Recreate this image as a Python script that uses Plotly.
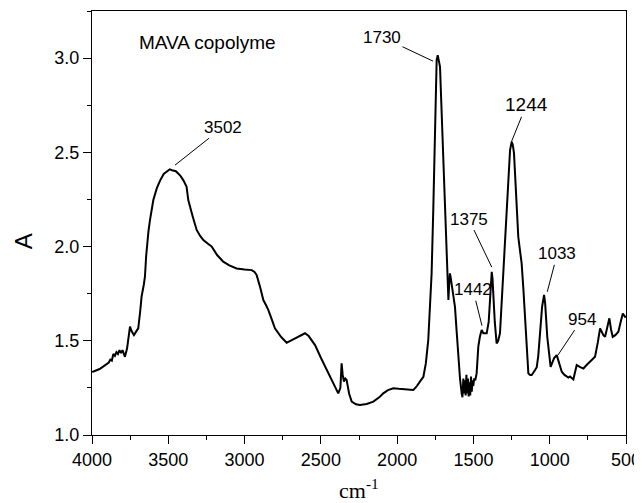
import plotly.graph_objects as go

# FTIR spectrum of MAVA copolymer
wavenumber = [
    4000, 3990, 3950, 3920, 3904, 3890, 3880, 3870, 3860, 3850, 3840, 3830, 3820, 3810, 3800,
    3790, 3784, 3770, 3760, 3751, 3740, 3725, 3710, 3697, 3685, 3675, 3660, 3653, 3645, 3641,
    3630, 3620, 3598, 3575, 3554, 3530, 3510, 3490, 3475, 3450, 3420, 3400, 3380, 3369, 3340,
    3314, 3290, 3270, 3240, 3216, 3180, 3140, 3100, 3052, 3000, 2953, 2935, 2921, 2900, 2877,
    2860, 2844, 2820, 2801, 2760, 2724, 2700, 2670, 2630, 2604, 2580, 2538, 2500, 2462, 2420,
    2386, 2372, 2364, 2357, 2349, 2340, 2331, 2315, 2298, 2270, 2244, 2200, 2156, 2113, 2091,
    2060, 2025, 1990, 1960, 1894, 1875, 1861, 1845, 1828, 1812, 1796, 1785, 1774, 1763, 1752,
    1741, 1734, 1726, 1719, 1710, 1701, 1690, 1680, 1664, 1659, 1654, 1648, 1643, 1632, 1621,
    1610, 1599, 1588, 1577, 1572, 1566, 1561, 1556, 1551, 1546, 1541, 1536, 1531, 1526, 1521,
    1516, 1511, 1506, 1501, 1495, 1488, 1479, 1468, 1458, 1446, 1435, 1424, 1413, 1400, 1391,
    1385, 1380, 1375, 1370, 1360, 1348, 1338, 1326, 1310, 1293, 1275, 1260, 1249, 1242, 1234,
    1220, 1206, 1195, 1184, 1173, 1162, 1150, 1140, 1129, 1118, 1096, 1085, 1075, 1064, 1050,
    1037, 1030, 1016, 1005, 994, 985, 970, 954, 940, 921, 905, 888, 878, 867, 856,
    845, 835, 823, 800, 779, 760, 736, 703, 685, 670, 659, 648, 637, 625, 609,
    598, 587, 570, 550, 535, 521, 506, 500,
]
absorbance = [
    1.335, 1.337, 1.350, 1.370, 1.380, 1.385, 1.400, 1.395, 1.430, 1.420, 1.440, 1.430, 1.450, 1.435, 1.450,
    1.425, 1.415, 1.460, 1.520, 1.575, 1.550, 1.530, 1.550, 1.566, 1.650, 1.734, 1.800, 1.840, 1.950, 2.000,
    2.080, 2.140, 2.247, 2.310, 2.350, 2.385, 2.400, 2.410, 2.405, 2.400, 2.375, 2.350, 2.317, 2.247, 2.160,
    2.088, 2.055, 2.034, 2.015, 2.000, 1.955, 1.920, 1.900, 1.884, 1.878, 1.875, 1.865, 1.849, 1.790, 1.716,
    1.690, 1.663, 1.610, 1.566, 1.520, 1.490, 1.500, 1.513, 1.533, 1.540, 1.525, 1.477, 1.410, 1.345, 1.280,
    1.221, 1.250, 1.380, 1.320, 1.283, 1.300, 1.292, 1.220, 1.177, 1.163, 1.159, 1.165, 1.177, 1.203, 1.221,
    1.238, 1.248, 1.245, 1.242, 1.239, 1.255, 1.274, 1.290, 1.309, 1.380, 1.504, 1.680, 1.858, 2.200, 2.565,
    2.990, 3.016, 2.990, 2.954, 2.750, 2.565, 2.300, 2.034, 1.716, 1.800, 1.858, 1.830, 1.805, 1.740, 1.680,
    1.550, 1.415, 1.300, 1.221, 1.200, 1.300, 1.220, 1.290, 1.210, 1.320, 1.220, 1.300, 1.205, 1.280, 1.210,
    1.310, 1.230, 1.290, 1.260, 1.300, 1.290, 1.327, 1.469, 1.520, 1.557, 1.540, 1.539, 1.540, 1.600, 1.698,
    1.800, 1.866, 1.830, 1.752, 1.600, 1.486, 1.500, 1.540, 1.780, 2.052, 2.330, 2.512, 2.556, 2.540, 2.494,
    2.300, 2.052, 1.980, 1.911, 1.780, 1.610, 1.450, 1.327, 1.318, 1.318, 1.345, 1.360, 1.420, 1.540, 1.680,
    1.743, 1.700, 1.520, 1.420, 1.362, 1.380, 1.410, 1.424, 1.390, 1.336, 1.320, 1.310, 1.305, 1.310, 1.300,
    1.295, 1.330, 1.371, 1.360, 1.353, 1.370, 1.389, 1.415, 1.490, 1.566, 1.548, 1.530, 1.521, 1.560, 1.619,
    1.560, 1.521, 1.530, 1.548, 1.600, 1.645, 1.627, 1.630,
]

# Peak labels: text, arrow head position (wavenumber, absorbance)
peak_labels = ["3502", "1730", "1244", "1375", "1442", "1033", "954"]
peak_x = [3456, 1765, 1251, 1380, 1444, 1016, 946]
peak_y = [2.432, 2.984, 2.556, 1.891, 1.580, 1.760, 1.424]
# label offsets (pixels) and font sizes
peak_ax = [48, -51, 15, -23, -9, 10, 24]
peak_ay = [-38, -24, -37, -48, -36, -38, -36]
peak_fs = [17, 17, 19, 17, 17, 17, 17]

x_ticks = [4000, 3500, 3000, 2500, 2000, 1500, 1000, 500]
y_ticks = [1.0, 1.5, 2.0, 2.5, 3.0]

SANS = "Liberation Sans, Arial, sans-serif"
SERIF = "Liberation Serif, Times New Roman, serif"

fig = go.Figure()
fig.add_trace(go.Scatter(
    x=wavenumber, y=absorbance, mode="lines",
    line=dict(color="black", width=2),
    showlegend=False, hoverinfo="skip",
))

annotations = []
for t, x, y, ax, ay, fs in zip(peak_labels, peak_x, peak_y, peak_ax, peak_ay, peak_fs):
    annotations.append(dict(
        x=x, y=y, xref="x", yref="y", text=t, showarrow=True,
        arrowhead=0, arrowwidth=1, arrowcolor="black", ax=ax, ay=ay,
        font=dict(family=SANS, size=fs, color="black"),
    ))

annotations.append(dict(
    x=0.084, y=0.925, xref="paper", yref="paper", xanchor="left", yanchor="middle",
    text="MAVA copolyme", showarrow=False,
    font=dict(family=SANS, size=19, color="black"),
))
annotations.append(dict(
    x=-0.129, y=0.4575, xref="paper", yref="paper", xanchor="center", yanchor="middle",
    text="A", showarrow=False, textangle=-90,
    font=dict(family=SANS, size=24, color="black"),
))
annotations.append(dict(
    x=0.5, y=-0.128, xref="paper", yref="paper", xanchor="center", yanchor="middle",
    text="cm<sup>-1</sup>", showarrow=False,
    font=dict(family=SERIF, size=22, color="black"),
))

axis_common = dict(
    showline=True, linecolor="black", linewidth=1.3, mirror=True,
    ticks="outside", ticklen=8, tickwidth=1.3, tickcolor="black",
    showgrid=False, zeroline=False, automargin=False,
    tickfont=dict(family=SANS, size=18, color="black"),
)

# page body has an 8px margin, so the figure is sized/offset to compensate
fig.update_layout(
    width=634, height=495,
    margin=dict(l=84, r=15.5, t=3, b=68),
    paper_bgcolor="white", plot_bgcolor="white",
    annotations=annotations,
    xaxis=dict(
        range=[4000, 500], tickvals=x_ticks, ticktext=[str(v) for v in x_ticks],
        minor=dict(ticks="outside", ticklen=4, tickwidth=1.2, tickcolor="black", dtick=250, tick0=500),
        **axis_common,
    ),
    yaxis=dict(
        range=[1.0, 3.25], tickvals=y_ticks, ticktext=[f"{v:.1f}" for v in y_ticks],
        minor=dict(ticks="outside", ticklen=4, tickwidth=1.2, tickcolor="black", dtick=0.25, tick0=1.0),
        **axis_common,
    ),
)

fig.write_html("out.html")
